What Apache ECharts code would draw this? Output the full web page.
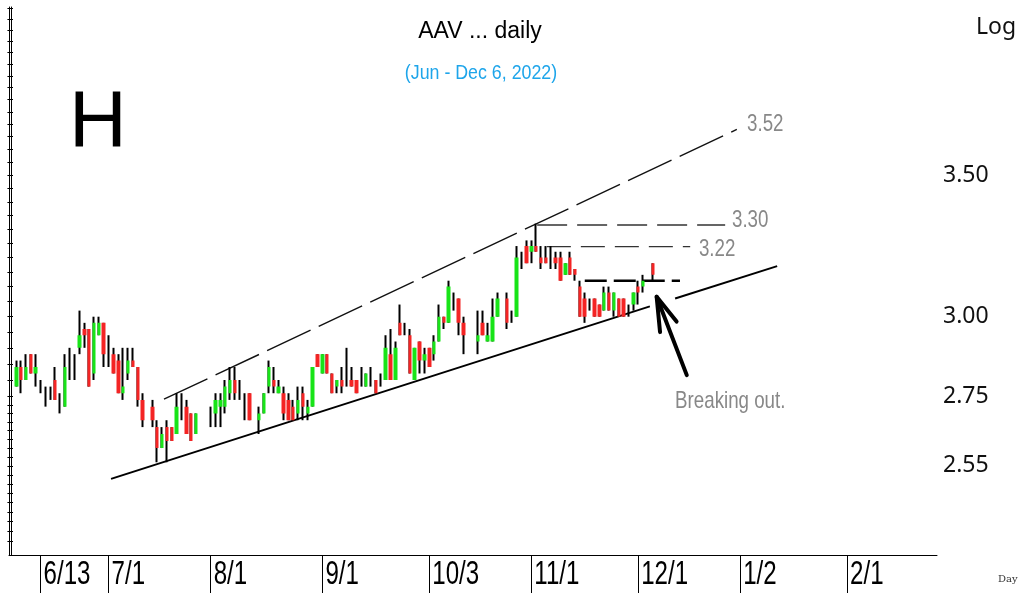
<!DOCTYPE html>
<html>
<head>
<meta charset="utf-8">
<script src="https://cdn.jsdelivr.net/npm/echarts@6/dist/echarts.min.js"></script>
<style>
  html, body { margin: 0; padding: 0; background: #fff; }
  #chart { width: 1018px; height: 593px; }
</style>
</head>
<body>
<div id="chart"></div>
<script>
// time axis: weekday slots from Jun 3 2022 (Dec 30 is not on the chart's calendar)
const slotStart = '2022-06-03';
const slotSkip = ['2022-12-30'];
const slotCount = 191;
const dateLabels = ['6/13', '7/1', '8/1', '9/1', '10/3', '11/1', '12/1', '1/2', '2/1'];

// daily prices, one entry per slot from Jun 3 (null = market holiday)
const opens = [
  null, 2.78, 2.84, 2.80, 2.88, 2.82, 2.78, 2.76, 2.76, 2.80,
  2.74, 2.72, 2.84, 2.84, 2.90, 2.96, 2.96, 2.82, 2.94, 2.98,
  2.90, 2.88, 2.86, 2.76, 2.82, 2.86, 2.84, 2.74, null, 2.72,
  2.66, 2.60, 2.66, 2.66, 2.64, 2.72, 2.72, 2.70, 2.64, null,
  null, 2.70, 2.70, 2.72, 2.72, 2.76, 2.80, 2.76, 2.74, 2.76,
  null, 2.68, 2.70, 2.78, 2.80, 2.76, 2.76, 2.74, 2.72, 2.70,
  2.76, 2.70, 2.72, 2.88, 2.82, 2.88, 2.82, 2.78, 2.80, 2.80,
  2.80, 2.80, 2.80, 2.78, 2.80, 2.80, 2.80, 2.80, 2.88, 2.80,
  2.98, 2.96, 2.94, 2.80, 2.92, 2.86, 2.90, 2.88, 2.92, 3.00,
  2.98, 3.06, 3.06, 2.98, null, null, 2.92, 2.98, 2.92, 2.92,
  3.00, null, 3.06, 3.00, 3.00, 3.18, 3.24, 3.22, 3.24, 3.20,
  3.20, 3.20, 3.20, 3.20, 3.14, 3.20, 3.16, 3.10, 3.06, 3.04,
  3.06, 3.04, 3.02, 3.08, 3.02, 3.06, 3.06, 3.02, 3.04, 3.10,
  3.10, null, 3.18
];
const closes = [
  null, 2.84, 2.80, 2.84, 2.82, 2.84, 2.78, 2.76, 2.76, 2.74,
  2.74, 2.84, 2.84, 2.84, 2.94, 2.94, 2.78, 2.98, 2.98, 2.88,
  2.90, 2.82, 2.76, 2.78, 2.86, 2.84, 2.74, 2.68, null, 2.68,
  2.60, 2.64, 2.62, 2.62, 2.72, 2.72, 2.64, 2.62, 2.70, null,
  null, 2.70, 2.74, 2.74, 2.78, 2.80, 2.76, 2.76, 2.74, 2.68,
  null, 2.70, 2.76, 2.84, 2.78, 2.78, 2.70, 2.68, 2.68, 2.74,
  2.72, 2.72, 2.84, 2.84, 2.88, 2.82, 2.76, 2.80, 2.78, 2.80,
  2.78, 2.76, 2.80, 2.82, 2.80, 2.76, 2.80, 2.90, 2.80, 2.90,
  2.94, 2.96, 2.82, 2.90, 2.86, 2.88, 2.84, 2.92, 3.00, 2.98,
  3.10, 3.06, 2.98, 2.94, null, null, 2.94, 2.94, 2.94, 3.00,
  3.06, null, 2.98, 3.00, 3.20, 3.18, 3.18, 3.24, 3.22, 3.18,
  3.18, 3.20, 3.18, 3.12, 3.18, 3.14, 3.14, 3.00, 3.00, 3.04,
  3.00, 3.00, 3.08, 3.02, 3.08, 3.00, 3.00, 3.02, 3.08, 3.08,
  3.12, null, 3.14
];
const lows = [
  null, 2.78, 2.76, 2.80, 2.82, 2.78, 2.76, 2.72, 2.74, 2.74,
  2.70, 2.72, 2.80, 2.80, 2.88, 2.90, 2.78, 2.80, 2.94, 2.84,
  2.84, 2.82, 2.76, 2.74, 2.80, 2.84, 2.72, 2.66, null, 2.66,
  2.56, 2.60, 2.56, 2.62, 2.64, 2.68, 2.64, 2.62, 2.64, null,
  null, 2.66, 2.66, 2.66, 2.70, 2.74, 2.74, 2.74, 2.68, 2.68,
  null, 2.64, 2.70, 2.76, 2.76, 2.76, 2.68, 2.68, 2.68, 2.68,
  2.68, 2.68, 2.72, 2.84, 2.82, 2.82, 2.76, 2.76, 2.76, 2.78,
  2.78, 2.76, 2.78, 2.78, 2.78, 2.76, 2.78, 2.80, 2.80, 2.80,
  2.94, 2.94, 2.82, 2.80, 2.82, 2.82, 2.84, 2.86, 2.92, 2.96,
  2.98, 3.02, 2.94, 2.88, null, null, 2.88, 2.94, 2.92, 2.92,
  3.00, null, 2.96, 2.98, 3.00, 3.16, 3.18, 3.18, 3.22, 3.16,
  3.18, 3.16, 3.16, 3.12, 3.14, 3.14, 3.12, 3.00, 2.98, 3.02,
  3.00, 3.00, 3.02, 3.02, 3.00, 3.00, 3.00, 3.00, 3.02, 3.04,
  3.08, null, 3.12
];
const highs = [
  null, 2.86, 2.86, 2.88, 2.88, 2.88, 2.80, 2.78, 2.78, 2.84,
  2.76, 2.88, 2.90, 2.88, 3.02, 2.98, 2.96, 3.00, 3.00, 2.98,
  2.94, 2.90, 2.88, 2.90, 2.90, 2.90, 2.84, 2.76, null, 2.74,
  2.68, 2.66, 2.68, 2.66, 2.76, 2.76, 2.74, 2.70, 2.70, null,
  null, 2.72, 2.76, 2.76, 2.80, 2.84, 2.84, 2.80, 2.76, 2.76,
  null, 2.72, 2.76, 2.86, 2.84, 2.80, 2.78, 2.76, 2.74, 2.78,
  2.78, 2.74, 2.84, 2.88, 2.88, 2.88, 2.82, 2.80, 2.84, 2.90,
  2.84, 2.80, 2.84, 2.82, 2.84, 2.80, 2.82, 2.94, 2.96, 2.92,
  3.04, 2.98, 2.96, 2.90, 2.92, 2.90, 2.90, 2.94, 3.04, 3.00,
  3.12, 3.08, 3.06, 3.00, null, null, 3.02, 3.02, 2.98, 3.06,
  3.08, null, 3.08, 3.02, 3.24, 3.22, 3.26, 3.26, 3.32, 3.24,
  3.24, 3.24, 3.22, 3.22, 3.18, 3.22, 3.16, 3.12, 3.08, 3.06,
  3.06, 3.04, 3.10, 3.10, 3.08, 3.06, 3.06, 3.04, 3.08, 3.12,
  3.14, null, 3.18
];

// price scale (log) and its labels
const priceMin = 2.314;
const priceMax = 4.204;
const priceLabels = [2.55, 2.75, 3.00, 3.50];

// hand-drawn annotations: [slot, price]
const supportLeft = [[20.5, 2.514], [131.4, 3.034]];
const supportRight = [[136.6, 3.060], [157.6, 3.170]];
const channelTop = [[31.4, 2.742], [149.3, 3.679]];
const level330 = [[108.2, 3.315], [146.9, 3.315]];
const level322 = [[110.2, 3.238], [139.7, 3.238]];
const breakLevel = [[118.0, 3.120], [137.6, 3.120]];
const arrowShaft = [[139.0, 2.815], [132.8, 3.066]];
const arrowHead = [[133.5, 2.950], [132.8, 3.066], [136.9, 2.984]];
const noteLabels = [
  [151.4, 3.701, '3.52'],
  [148.3, 3.333, '3.30'],
  [141.5, 3.230, '3.22'],
  [136.6, 2.737, 'Breaking out.']
];

const categories = [];
const d = new Date(slotStart + 'T00:00:00Z');
while (categories.length < slotCount) {
  const wd = d.getUTCDay();
  const iso = d.toISOString().slice(0, 10);
  if (wd !== 0 && wd !== 6 && !slotSkip.includes(iso)) {
    categories.push((d.getUTCMonth() + 1) + '/' + d.getUTCDate());
  }
  d.setUTCDate(d.getUTCDate() + 1);
}

const ln = Math.log;
const candles = opens.map((o, i) => o == null
  ? ['-', '-', '-', '-']
  : [ln(o), ln(closes[i]), ln(lows[i]), ln(highs[i])]);

const minorTicks = [];
for (let p = 2.35; p < 4.2; p += (p < 2.749 ? 0.025 : 0.05)) minorTicks.push(ln(+p.toFixed(3)));

const toCoords = pts => pts.map(p => [p[0], ln(p[1])]);
const SANS = '"Liberation Sans", Arial, sans-serif';
const isLabelDate = (idx, value) => dateLabels.includes(value);

const chart = echarts.init(document.getElementById('chart'), null, { renderer: 'canvas' });
chart.setOption({
  animation: false,
  backgroundColor: '#fff',
  grid: { left: 9, right: 81, top: 7, bottom: 38, outerBoundsMode: 'none' },
  xAxis: [{
    type: 'category',
    data: categories,
    boundaryGap: true,
    axisLine: { show: true, lineStyle: { color: '#000', width: 1 } },
    axisTick: { show: true, alignWithLabel: true, interval: isLabelDate, length: 38, lineStyle: { color: '#000' } },
    axisLabel: { show: false, interval: isLabelDate },
    splitLine: { show: false }
  }, {
    type: 'value', min: -0.5, max: slotCount - 0.5, show: false
  }],
  yAxis: [{
    type: 'value', position: 'right', min: ln(priceMin), max: ln(priceMax),
    axisLine: { show: true, lineStyle: { color: '#000' } },
    axisTick: { show: true, inside: true, length: 4, customValues: minorTicks, lineStyle: { color: '#000' } },
    axisLabel: {
      show: true, customValues: priceLabels.map(ln), margin: 6,
      formatter: v => Math.exp(v).toFixed(2),
      color: '#111', fontFamily: '"Noto Sans", sans-serif', fontSize: 23
    },
    splitLine: { show: false }
  }, {
    type: 'value', position: 'left', min: ln(priceMin), max: ln(priceMax),
    axisLine: { show: true, lineStyle: { color: '#000' } },
    axisTick: { show: true, inside: true, length: 4, customValues: minorTicks, lineStyle: { color: '#000' } },
    axisLabel: { show: false },
    splitLine: { show: false }
  }],
  series: [{
    // wicks
    type: 'candlestick', xAxisIndex: 0, yAxisIndex: 0, silent: true,
    barWidth: 1,
    itemStyle: { color: '#000', color0: '#000', borderColor: '#000', borderColor0: '#000', borderColorDoji: '#000', borderWidth: 2 },
    data: candles
  }, {
    // bodies
    type: 'candlestick', xAxisIndex: 0, yAxisIndex: 0, silent: true,
    barWidth: 4,
    itemStyle: { color: '#18e418', color0: '#f42424', borderColor: '#18e418', borderColor0: '#f42424', borderColorDoji: 'transparent', borderWidth: 0 },
    data: candles
  }, {
    type: 'lines', coordinateSystem: 'cartesian2d', xAxisIndex: 1, yAxisIndex: 0, silent: true,
    polyline: true,
    lineStyle: { opacity: 1, curveness: 0 },
    data: [
      { coords: toCoords(supportLeft), lineStyle: { color: '#000', width: 2 } },
      { coords: toCoords(supportRight), lineStyle: { color: '#000', width: 2 } },
      { coords: toCoords(channelTop), lineStyle: { color: '#111', width: 1.4, type: [48, 9] } },
      { coords: toCoords(level330), lineStyle: { color: '#333', width: 1.4, type: [30, 10] } },
      { coords: toCoords(level322), lineStyle: { color: '#333', width: 1.4, type: [24, 10] } },
      { coords: toCoords(breakLevel), lineStyle: { color: '#000', width: 2.5, type: [22, 7] } },
      { coords: toCoords(arrowShaft), lineStyle: { color: '#000', width: 4, cap: 'round' } },
      { coords: toCoords(arrowHead), lineStyle: { color: '#000', width: 4, cap: 'round', join: 'round' } }
    ]
  }, {
    // anchor points of the annotation texts
    type: 'scatter', xAxisIndex: 1, yAxisIndex: 0, silent: true,
    symbolSize: 1, itemStyle: { color: 'rgba(0,0,0,0)' },
    data: noteLabels.map(n => [n[0], ln(n[1])])
  }]
});

// texts; the narrow chart font is imitated by squeezing Liberation Sans
const axisBottom = chart.convertToPixel({ yAxisIndex: 0 }, ln(priceMin));
const narrowText = (text, x, y, size, color, sx) => ({
  type: 'text', x: x, y: y, scaleX: sx, originX: 0, originY: 0, silent: true,
  style: { text: text, x: 0, y: 0, align: 'left', verticalAlign: 'middle', fill: color, font: size + 'px ' + SANS }
});
const graphics = [];
dateLabels.forEach(lbl => {
  const x = chart.convertToPixel({ xAxisIndex: 0 }, lbl);
  graphics.push(narrowText(lbl, x + 3, axisBottom + 20, 33, '#000', 0.73));
});
noteLabels.forEach(n => {
  const pt = chart.convertToPixel({ seriesIndex: 3 }, [n[0], ln(n[1])]);
  graphics.push(narrowText(n[2], pt[0], pt[1], 24, '#888', 0.78));
});
graphics.push(
  { type: 'text', x: 480, y: 32, silent: true, style: { text: 'AAV ... daily', x: 0, y: 0, align: 'center', verticalAlign: 'middle', fill: '#000', font: '23px ' + SANS } },
  { type: 'text', x: 481, y: 73, scaleX: 0.89, silent: true, style: { text: '(Jun - Dec 6, 2022)', x: 0, y: 0, align: 'center', verticalAlign: 'middle', fill: '#1ea5ea', font: '20px ' + SANS } },
  { type: 'text', x: 98, y: 124, silent: true, style: { text: 'H', x: 0, y: 0, align: 'center', verticalAlign: 'middle', fill: '#000', font: '80px ' + SANS } },
  { type: 'text', x: 996, y: 27, silent: true, style: { text: 'Log', x: 0, y: 0, align: 'center', verticalAlign: 'middle', fill: '#111', font: '23px "Noto Sans", sans-serif' } },
  { type: 'text', x: 998, y: 579, silent: true, style: { text: 'Day', x: 0, y: 0, align: 'left', verticalAlign: 'middle', fill: '#333', font: '10px "DejaVu Serif", serif' } }
);
chart.setOption({ graphic: graphics });
</script>
</body>
</html>
